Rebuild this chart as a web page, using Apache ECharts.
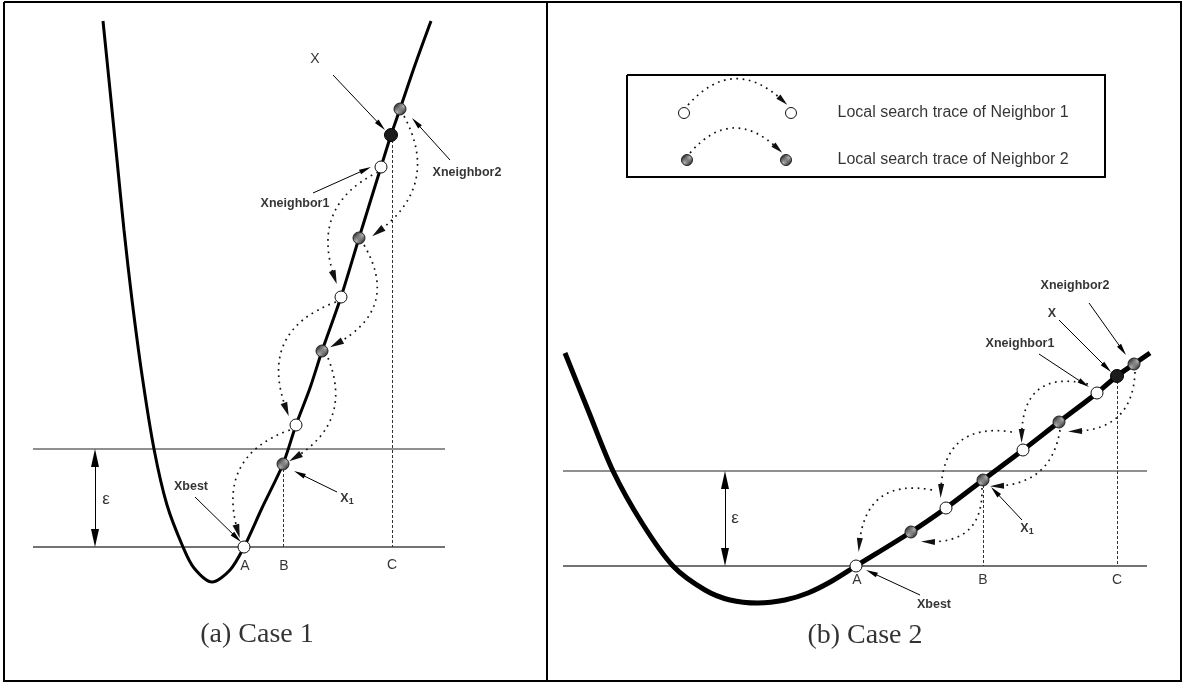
<!DOCTYPE html>
<html><head><meta charset="utf-8">
<script src="https://cdn.jsdelivr.net/npm/echarts@6/dist/echarts.min.js"></script>
<style>html,body{margin:0;padding:0;background:#fff}#c{width:1182px;height:683px}</style>
</head><body><div id="c"></div>
<script>
// ---------- data (in the figure's own coordinate units) ----------
const frame = [[4,2],[1181,2],[1181,681],[4,681],[4,2]];
const divider = [[547,2],[547,681]];
const legendBox = [[627,75],[1105,75],[1105,177],[627,177],[627,75]];

const curveA = [[103,21],[110,90],[117,160],[124,230],[132,300],[142,375],[154,449],[167,505],[183,547],[194,568],[212,582],[230,570],[244,547],[262,508],[283,464],[296,425],[310,388],[322,351],[341,297],[359,238],[381,167],[391,135],[400,109],[415,65],[431,21]];
const curveB = [[565,353],[588,410],[613,471],[642,523],[673,566],[705,590],[730,600],[758,603],[785,600],[808,593],[832,581],[856,566],[911,532],[946,508],[983,480],[1023,450],[1059,422],[1097,393],[1117,376],[1134,364],[1150,353]];

const openA = [[244,547],[296,425],[341,297],[381,167]];
const hatchA = [[283,464],[322,351],[359,238],[400,109]];
const filledA = [[391,135]];
const openB = [[856,566],[946,508],[1023,450],[1097,393]];
const hatchB = [[911,532],[983,480],[1059,422],[1134,364]];
const filledB = [[1117,376]];
const legendOpen = [[684,113],[791,113]];
const legendHatch = [[687,160],[786,160]];

const levelUpper = [[33,449,445,449],[563,471,1147,471]];
const levelLower = [[33,547,445,547],[563,566,1147,566]];
const dropLines = [[283,464,283,547],[392,135,392,547],[983,480,983,566],[1117,376,1117,566]];
const epsArrows = [[95,449,95,547],[725,471,725,566]];

// start x, start y, arrow-tip x, arrow-tip y ; bend = curvature of each trace
const traceA1 = [[378,172,337,284],[336,302,289,416],[290,430,240,538]];
const bendA1 = [-0.44,-0.50,-0.47];
const traceA2 = [[404,116,372,236],[364,245,330,347],[328,358,289,461]];
const bendA2 = [0.43,0.51,0.42];
const traceB1 = [[1088,384,1022,443],[1012,432,941,498],[932,490,859,552]];
const bendB1 = [-0.62,-0.56,-0.55];
const traceB2 = [[1135,372,1068,431],[1060,430,990,486],[982,488,921,541]];
const bendB2 = [0.47,0.41,0.53];
const legendTrace = [[688,105,787,105],[690,153,782,153]];
const legendBend = [0.51,0.52];

const pointerArrows = [
  [333,75,385,130],[450,160,412,118],[313,193,371,167],[195,497,241,542],[337,492,294,471],
  [1089,303,1126,355],[1059,320,1111,372],[1039,354,1089,387],[1022,520,991,487],[920,595,866,570]
];

const boldLabels = [['Xbest',191,487],['Xneighbor1',295,204],['Xneighbor2',467,173],['Xbest',934,605],['Xneighbor1',1020,344],['Xneighbor2',1075,286],['X',1052,314]];
const subLabels = [['X','1',347,499],['X','1',1027,529]];
const plainX = [['X',315,59]];
const pointNames = [['A',245,566],['B',284,566],['C',392,565],['A',857,580],['B',983,580],['C',1117,580]];
const epsLabels = [['ε',106,499],['ε',735,518]];
const legendTexts = [['Local search trace of Neighbor 1',837,113],['Local search trace of Neighbor 2',837,160]];
const captions = [['(a) Case 1',257,635],['(b) Case 2',865,636]];

// ---------- helpers ----------
function makeHatch(){
  const n = 5;
  const c = document.createElement('canvas'); c.width = n; c.height = n;
  const g = c.getContext('2d');
  g.fillStyle = '#1e1e1e'; g.fillRect(0,0,n,n);
  g.strokeStyle = '#bcbcbc'; g.lineWidth = 1.2;
  g.beginPath();
  g.moveTo(-1,n+1); g.lineTo(n+1,-1);
  g.moveTo(-1,1); g.lineTo(1,-1);
  g.moveTo(n-1,n+1); g.lineTo(n+1,n-1);
  g.stroke();
  return c;
}
const hatch = {image: makeHatch(), repeat: 'repeat'};

function arrowSeg(a, bend, len){
  const [x1,y1,x2,y2] = a;
  const cpx = (x1+x2)/2 - (y1-y2)*bend, cpy = (y1+y2)/2 - (x2-x1)*bend;
  const dx = x2-cpx, dy = y2-cpy, d = Math.hypot(dx,dy) || 1;
  return {coords: [[x1,y1],[x2-dx/d*len/2, y2-dy/d*len/2]], lineStyle: {curveness: bend}};
}
function segs(arr){ return arr.map(a => ({coords: [[a[0],a[1]],[a[2],a[3]]]})); }

function traceSeries(tr, bends, size, z){
  return {type:'lines', coordinateSystem:'cartesian2d', silent:true, z,
    symbol:['none','triangle'], symbolSize:[[size[0],size[1]],[size[0],size[1]]],
    lineStyle:{color:'#111', width:1.7, type:[1.7,4.6], opacity:1},
    data: tr.map((a,i) => arrowSeg(a, bends[i], size[1]))};
}
function textSeries(items, label, z){
  return {type:'scatter', silent:true, z, symbolSize:1, itemStyle:{color:'rgba(0,0,0,0)'},
    data: items.map(t => ({value:[t[1],t[2]], name:t[0]})),
    label: Object.assign({show:true, position:'inside', formatter:'{b}', color:'#000', textBorderWidth:0}, label)};
}
function dotSeries(pts, color, size, z, border){
  return {type:'scatter', silent:true, z, symbol:'circle', symbolSize:size, data:pts,
    itemStyle:{color, borderColor: border || '#111', borderWidth:1, opacity:1}};
}

const sans = 'Liberation Sans';
const series = [
  {type:'lines', coordinateSystem:'cartesian2d', polyline:true, silent:true, z:1,
    lineStyle:{color:'#000', width:2, opacity:1}, data:[{coords:frame},{coords:divider},{coords:legendBox}]},
  {type:'lines', coordinateSystem:'cartesian2d', silent:true, z:1,
    lineStyle:{color:'#6b6b6b', width:1.5, opacity:1}, data:segs(levelUpper)},
  {type:'lines', coordinateSystem:'cartesian2d', silent:true, z:1,
    lineStyle:{color:'#444', width:1.5, opacity:1}, data:segs(levelLower)},
  {type:'lines', coordinateSystem:'cartesian2d', silent:true, z:1,
    lineStyle:{color:'#333', width:1, type:[3,2], opacity:1}, data:segs(dropLines)},
  {type:'lines', coordinateSystem:'cartesian2d', silent:true, z:2,
    symbol:['triangle','triangle'], symbolSize:[[8,18],[8,18]],
    lineStyle:{color:'#000', width:1, opacity:1},
    data: epsArrows.map(a => { const s = arrowSeg(a,0,18); const b = arrowSeg([a[2],a[3],a[0],a[1]],0,18); return {coords:[b.coords[1], s.coords[1]]}; })},
  {type:'line', data:curveA, smooth:0.3, symbol:'none', silent:true, z:3, lineStyle:{width:3, color:'#000'}},
  {type:'line', data:curveB, smooth:0.3, symbol:'none', silent:true, z:3, lineStyle:{width:5, color:'#000'}},
  traceSeries(traceA1, bendA1, [7,14], 4),
  traceSeries(traceA2, bendA2, [7,14], 4),
  traceSeries(traceB1, bendB1, [6,14], 4),
  traceSeries(traceB2, bendB2, [6,14], 4),
  traceSeries(legendTrace, legendBend, [6,12], 4),
  {type:'lines', coordinateSystem:'cartesian2d', silent:true, z:4,
    symbol:['none','triangle'], symbolSize:[[5,12],[5,12]],
    lineStyle:{color:'#000', width:1, opacity:1},
    data: pointerArrows.map(a => arrowSeg(a,0,12))},
  dotSeries(openA.concat(openB), '#fff', 12, 6),
  dotSeries(legendOpen, '#fff', 11, 6),
  dotSeries(hatchA.concat(hatchB), hatch, 12, 6, '#222'),
  dotSeries(legendHatch, hatch, 11, 6, '#222'),
  dotSeries(filledA.concat(filledB), '#1c1c1c', 13, 6, '#000'),
  textSeries(boldLabels, {fontFamily:sans, fontWeight:'bold', fontSize:12.5}, 8),
  textSeries(plainX, {fontFamily:sans, fontSize:14}, 8),
  textSeries(pointNames, {fontFamily:sans, fontSize:14}, 8),
  textSeries(epsLabels, {fontFamily:sans, fontSize:17}, 8),
  textSeries(legendTexts, {fontFamily:sans, fontSize:16, position:'right', distance:0}, 8),
  textSeries(captions, {fontFamily:'Liberation Serif', fontSize:28}, 8),
  {type:'scatter', silent:true, z:8, symbolSize:1, itemStyle:{color:'rgba(0,0,0,0)'},
    data: subLabels.map(t => ({value:[t[2],t[3]], name:t[0], sub:t[1]})),
    label:{show:true, position:'inside', color:'#000', textBorderWidth:0, fontFamily:sans,
      formatter: p => '{b|' + p.data.name + '}{s|' + p.data.sub + '}',
      rich:{b:{fontWeight:'bold', fontSize:12.5, fontFamily:sans, color:'#000'}, s:{fontWeight:'bold', fontSize:9, fontFamily:sans, color:'#000', padding:[6,0,0,0]}}}}
];

const chart = echarts.init(document.getElementById('c'), null, {renderer:'canvas'});
chart.setOption({
  animation:false,
  backgroundColor:'#fff',
  grid:{left:0, right:0, top:0, bottom:0, containLabel:false},
  xAxis:{type:'value', min:0, max:1182, show:false},
  yAxis:{type:'value', min:0, max:683, inverse:true, show:false},
  series
});
</script>
</body></html>
